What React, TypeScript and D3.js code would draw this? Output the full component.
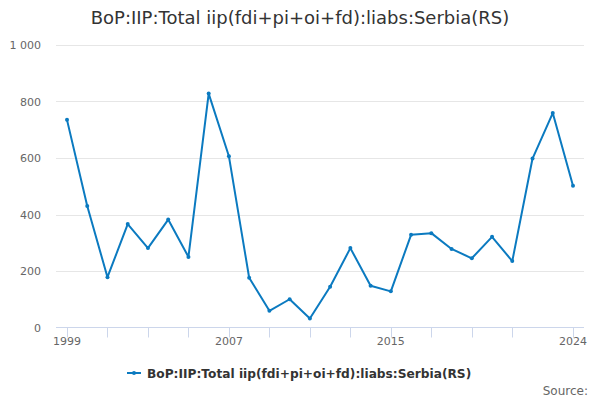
import React from "react";
import * as d3 from "d3";

const title = "BoP:IIP:Total iip(fdi+pi+oi+fd):liabs:Serbia(RS)";
const years = [1999,2000,2001,2002,2003,2004,2005,2006,2007,2008,2009,2010,2011,2012,2013,2014,2015,2016,2017,2018,2019,2020,2021,2022,2023,2024];
const values = [735,430,178,366,281,382,250,828,606,176,59,100,32,144,281,148,128,328,334,278,245,321,235,598,759,502];
const yTicks = [0,200,400,600,800,1000];
const xTickYears = [1999,2001,2003,2005,2007,2009,2011,2013,2015,2017,2019,2021,2024];
const xLabelYears = [1999,2007,2015,2024];

const W = 600, H = 400;
const FONT = "'DejaVu Sans', sans-serif";
const COLOR = "#0b7ac0";

export default function App() {
  const x = d3.scaleLinear().domain([1999, 2024]).range([67, 573]);
  const y = d3.scaleLinear().domain([0, 1000]).range([327.5, 45]);
  const line = d3.line<number>().x((_, i) => x(years[i])).y(d => y(d));
  const fmt = (v: number) => (v >= 1000 ? d3.format(",")(v).replace(",", " ") : String(v));
  return (
    <svg width={W} height={H} style={{ position: "absolute", left: 0, top: 0, background: "#fff" }} fontFamily={FONT}>
      <rect width={W} height={H} fill="#fff" />
      <text x={300} y={24} textAnchor="middle" fontSize={18} fill="#333">{title}</text>
      {yTicks.map(t => (
        <g key={t}>
          {t > 0 && <line x1={56} x2={584} y1={Math.round(y(t)) + 0.5} y2={Math.round(y(t)) + 0.5} stroke="#e6e6e6" />}
          <text x={41} y={y(t) + 4} textAnchor="end" fontSize={11} fill="#666">{fmt(t)}</text>
        </g>
      ))}
      <line x1={56} x2={584} y1={327.5} y2={327.5} stroke="#ccd6eb" />
      {xTickYears.map(t => (
        <line key={t} x1={Math.round(x(t)) + 0.5} x2={Math.round(x(t)) + 0.5} y1={327.5} y2={337.5} stroke="#ccd6eb" />
      ))}
      {xLabelYears.map(t => (
        <text key={t} x={x(t)} y={345} textAnchor="middle" fontSize={11} fill="#666">{t}</text>
      ))}
      <path d={line(values) || ""} fill="none" stroke={COLOR} strokeWidth={2} strokeLinejoin="round" strokeLinecap="round" />
      {values.map((v, i) => (
        <circle key={i} cx={x(years[i])} cy={y(v)} r={2} fill={COLOR} />
      ))}
      <g>
        <line x1={127} x2={141} y1={373} y2={373} stroke={COLOR} strokeWidth={2} />
        <circle cx={134} cy={373} r={2} fill={COLOR} />
        <text x={147} y={377.5} fontSize={12.2} fontWeight="bold" fill="#333">{title}</text>
      </g>
      <text x={588} y={395} textAnchor="end" fontSize={12} fill="#666">Source:</text>
    </svg>
  );
}
